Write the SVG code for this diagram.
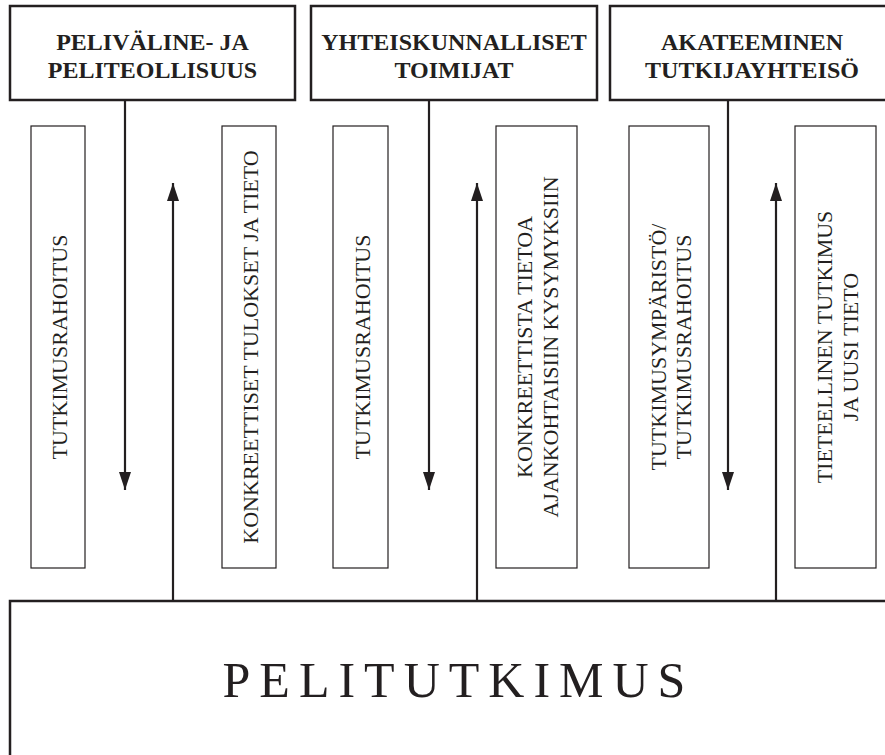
<svg xmlns="http://www.w3.org/2000/svg" width="885" height="755" viewBox="0 0 885 755">
<style>
.big{fill:#fff;stroke:#231f20;stroke-width:2.5}
.small{fill:#fff;stroke:#231f20;stroke-width:1.2}
.head{font-family:"Liberation Serif",serif;font-weight:bold;font-size:24px;fill:#231f20;text-anchor:middle}
.lbl{font-family:"Liberation Serif",serif;font-size:22px;fill:#231f20;text-anchor:middle}
.title{font-family:"Liberation Serif",serif;font-size:50px;fill:#231f20;text-anchor:middle;letter-spacing:9px}
.arr{stroke:#231f20;stroke-width:2.2;fill:none;marker-end:url(#ah)}
</style>
<defs>
<marker id="ah" viewBox="0 0 18 12" refX="18" refY="6" markerWidth="18" markerHeight="12" markerUnits="userSpaceOnUse" orient="auto">
<path d="M0,0 L18,6 L0,12 z" fill="#231f20"/>
</marker>
</defs>
<rect width="885" height="755" fill="#fff"/>
<g id="connectors">
<line class="arr" x1="125" y1="100" x2="125" y2="490"/>
<line class="arr" x1="429" y1="100" x2="429" y2="490"/>
<line class="arr" x1="728" y1="100" x2="728" y2="490"/>
<line class="arr" x1="173" y1="601" x2="173" y2="183"/>
<line class="arr" x1="477" y1="601" x2="477" y2="183"/>
<line class="arr" x1="776" y1="601" x2="776" y2="183"/>
</g>
<g id="node-peliteollisuus">
<rect class="big" x="10" y="6" width="285" height="94"/>
<text class="head" x="152.5" y="50">PELIVÄLINE- JA</text>
<text class="head" x="152.5" y="78">PELITEOLLISUUS</text>
</g>
<g id="node-yhteiskunnalliset">
<rect class="big" x="311" y="6" width="286" height="94"/>
<text class="head" x="454" y="50">YHTEISKUNNALLISET</text>
<text class="head" x="454" y="78">TOIMIJAT</text>
</g>
<g id="node-akateeminen">
<rect class="big" x="610" y="6" width="285" height="94"/>
<text class="head" x="752" y="50">AKATEEMINEN</text>
<text class="head" x="752" y="78">TUTKIJAYHTEISÖ</text>
</g>
<g id="label-1">
<rect class="small" x="31" y="126" width="54" height="442"/>
<text class="lbl" transform="translate(67,347) rotate(-90)" x="0" y="0">TUTKIMUSRAHOITUS</text>
</g>
<g id="label-2">
<rect class="small" x="222" y="126" width="54" height="442"/>
<text class="lbl" transform="translate(258,347) rotate(-90)" x="0" y="0">KONKREETTISET TULOKSET JA TIETO</text>
</g>
<g id="label-3">
<rect class="small" x="333" y="126" width="55" height="442"/>
<text class="lbl" transform="translate(370,347) rotate(-90)" x="0" y="0">TUTKIMUSRAHOITUS</text>
</g>
<g id="label-4">
<rect class="small" x="496" y="126" width="81" height="442"/>
<text class="lbl" transform="translate(532,347) rotate(-90)" x="0" y="0">KONKREETTISTA TIETOA</text>
<text class="lbl" transform="translate(558,347) rotate(-90)" x="0" y="0">AJANKOHTAISIIN KYSYMYKSIIN</text>
</g>
<g id="label-5">
<rect class="small" x="629" y="126" width="80" height="442"/>
<text class="lbl" transform="translate(666,347) rotate(-90)" x="0" y="0">TUTKIMUSYMPÄRISTÖ/</text>
<text class="lbl" transform="translate(691,347) rotate(-90)" x="0" y="0">TUTKIMUSRAHOITUS</text>
</g>
<g id="label-6">
<rect class="small" x="795" y="126" width="81" height="442"/>
<text class="lbl" transform="translate(832,347) rotate(-90)" x="0" y="0">TIETEELLINEN TUTKIMUS</text>
<text class="lbl" transform="translate(858,347) rotate(-90)" x="0" y="0">JA UUSI TIETO</text>
</g>
<g id="node-pelitutkimus">
<rect class="big" x="10" y="601" width="900" height="200"/>
<text class="title" x="458.5" y="697">PELITUTKIMUS</text>
</g>
</svg>
